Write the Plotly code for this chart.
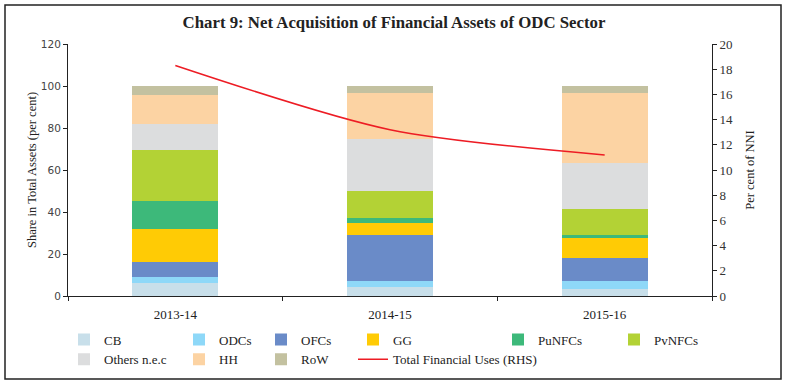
import plotly.graph_objects as go

years = ["2013-14", "2014-15", "2015-16"]
series_names = ["CB", "ODCs", "OFCs", "GG", "PuNFCs", "PvNFCs", "Others n.e.c", "HH", "RoW"]
CB = [6.3, 4.3, 3.2]
ODCs = [2.6, 2.7, 3.9]
OFCs = [7.1, 22.2, 10.8]
GG = [16.0, 5.4, 9.7]
PuNFCs = [13.1, 2.5, 1.4]
PvNFCs = [24.4, 12.9, 12.2]
Others = [12.4, 24.6, 22.2]
HH = [13.8, 22.2, 33.3]
RoW = [4.3, 3.2, 3.5]
total_fin_uses = [18.3, 13.2, 11.2]

series_values = [CB, ODCs, OFCs, GG, PuNFCs, PvNFCs, Others, HH, RoW]
colors = ["#C8DFEA", "#8ED8F8", "#6A8BC8", "#FFCB05", "#3DB97A", "#B3D235", "#DCDDDE", "#FCD3A3", "#C3C1A0"]
legend_of = ["legend", "legend2", "legend3", "legend4", "legend5", "legend6", "legend", "legend2", "legend3"]

W, H = 788, 384
ML, MR, MT, MB = 68, 76, 44, 88
PW, PH = W - ML - MR, H - MT - MB

def px_x(px):
    return (px - ML) / PW

def px_y(py):
    return (H - MB - py) / PH

fig = go.Figure()
for name, vals, col, lg in zip(series_names, series_values, colors, legend_of):
    fig.add_trace(go.Bar(x=years, y=vals, name=name, marker_color=col,
                         marker_line_width=0, legend=lg))

fig.add_trace(go.Scatter(x=years, y=total_fin_uses, name="Total Financial Uses (RHS)",
                         mode="lines", line=dict(color="#ED1C24", width=1.5, shape="spline", smoothing=0.8),
                         yaxis="y2", legend="legend4"))

serif = "Liberation Serif"
sans = "DejaVu Sans"

leg_common = dict(orientation="v", yanchor="top", xanchor="left", traceorder="normal",
                  font=dict(family=serif, size=13, color="#222"),
                  bgcolor="rgba(0,0,0,0)", itemclick=False, tracegroupgap=0)
leg_y = px_y(324.5)
text_x = [103, 218, 300, 392, 537, 653]
legends = {}
for i, tx in enumerate(text_x):
    key = "legend" if i == 0 else f"legend{i+1}"
    legends[key] = dict(leg_common, x=px_x(tx - 39), y=leg_y)

fig.update_layout(
    width=W, height=H,
    margin=dict(l=ML, r=MR, t=MT, b=MB, autoexpand=False),
    paper_bgcolor="white", plot_bgcolor="white",
    barmode="stack", bargap=0.6,
    showlegend=True,
    title=dict(text="<b>Chart 9: Net Acquisition of Financial Assets of ODC Sector</b>",
               x=0.5, xanchor="center", y=1 - 22 / H, yanchor="middle",
               font=dict(family=serif, size=16.8, color="#222")),
    xaxis=dict(showline=True, linecolor="#222", linewidth=1, ticks="outside", ticklen=4,
               tickcolor="#222", tickson="boundaries", showgrid=False,
               tickfont=dict(family=serif, size=13, color="#222"), ticklabelstandoff=6),
    yaxis=dict(range=[0, 120], dtick=20, showline=True, linecolor="#222", linewidth=1,
               ticks="outside", ticklen=4, tickcolor="#222", showgrid=False, zeroline=False,
               tickfont=dict(family=sans, size=10.5, color="#444"),
               title=dict(text="Share in Total Assets (per cent)", standoff=1,
                          font=dict(family=serif, size=12.5, color="#222"))),
    yaxis2=dict(range=[0, 20], dtick=2, overlaying="y", side="right", showline=True,
                linecolor="#222", linewidth=1, ticks="outside", ticklen=4, tickcolor="#222",
                showgrid=False, zeroline=False,
                tickfont=dict(family=serif, size=13, color="#333"),
                title=dict(text="Per cent of NNI", standoff=13,
                           font=dict(family=serif, size=12.5, color="#222"))),
    **legends,
)

fig.add_shape(type="rect", xref="paper", yref="paper",
              x0=px_x(5), x1=px_x(781), y0=px_y(379), y1=px_y(5),
              line=dict(color="#222", width=1.5), fillcolor="rgba(0,0,0,0)", layer="below")

fig.write_html("out.html", config={"displayModeBar": False},
               post_script="document.body.style.margin='0';")
